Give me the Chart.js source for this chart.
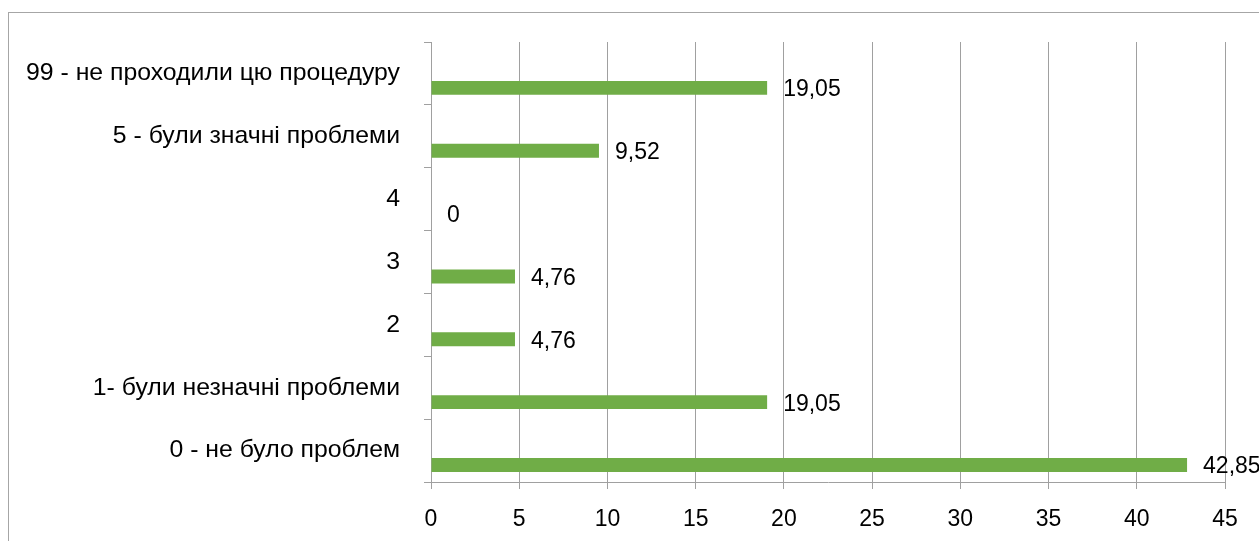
<!DOCTYPE html>
<html>
<head>
<meta charset="utf-8">
<script src="https://cdn.jsdelivr.net/npm/chart.js@4"></script>
<style>
  html, body { margin: 0; padding: 0; background: #fff; overflow: hidden; }
  #frame { position: absolute; left: 8px; top: 12px; width: 1400px; height: 700px; border: 1px solid #a6a6a6; }
  #wrap { position: absolute; left: 0; top: 0; width: 1259px; height: 541px; }
</style>
</head>
<body>
<div id="frame"></div>
<div id="wrap"><canvas id="barChart"></canvas></div>
<script>
const categories = [
  '99 - не проходили цю процедуру',
  '5 - були значні проблеми',
  '4',
  '3',
  '2',
  '1- були незначні проблеми',
  '0 - не було проблем'
];
const percents = [19.05, 9.52, 0, 4.76, 4.76, 19.05, 42.85];
const xTicks = [0, 5, 10, 15, 20, 25, 30, 35, 40, 45];

const gridGray = '#a0a0a0';
const numFont = { family: 'Liberation Sans', size: 23 };
const catFont = { family: 'Liberation Sans', size: 24.8 };

// draws "19,05" style labels to the right of every bar
const valueLabels = {
  id: 'valueLabels',
  afterDatasetsDraw(chart) {
    const ctx = chart.ctx;
    const meta = chart.getDatasetMeta(1);
    ctx.save();
    ctx.font = numFont.size + 'px "' + numFont.family + '"';
    ctx.fillStyle = '#000';
    ctx.textAlign = 'left';
    ctx.textBaseline = 'middle';
    meta.data.forEach((bar, i) => {
      const txt = String(percents[i]).replace('.', ',');
      ctx.fillText(txt, bar.x + 16, bar.y + 2);
    });
    ctx.restore();
  }
};

new Chart(document.getElementById('barChart').getContext('2d'), {
  type: 'bar',
  data: {
    labels: categories,
    datasets: [
      { label: 'spacer', data: categories.map(() => null), backgroundColor: 'rgba(0,0,0,0)' },
      { label: '%', data: percents, backgroundColor: '#70ad47' }
    ]
  },
  options: {
    indexAxis: 'y',
    responsive: true,
    maintainAspectRatio: false,
    animation: false,
    categoryPercentage: 0.92,
    barPercentage: 0.48,
    layout: { padding: { top: 42, right: 34, left: 0, bottom: 0 } },
    plugins: { legend: { display: false }, tooltip: { enabled: false } },
    scales: {
      x: {
        min: 0,
        max: 45,
        afterBuildTicks: (scale) => { scale.ticks = xTicks.map(v => ({ value: v })); },
        afterFit: (scale) => { scale.height = 59; },
        grid: { color: gridGray, tickLength: 7, lineWidth: 1 },
        border: { color: gridGray },
        ticks: { color: '#000', font: numFont, padding: 17, maxRotation: 0 }
      },
      y: {
        afterFit: (scale) => { scale.width = 431; },
        grid: { drawOnChartArea: false, color: gridGray, tickLength: 7, offset: true },
        border: { color: gridGray },
        ticks: { color: '#000', font: catFont, padding: 24, autoSkip: false }
      }
    }
  },
  plugins: [valueLabels]
});
</script>
</body>
</html>
